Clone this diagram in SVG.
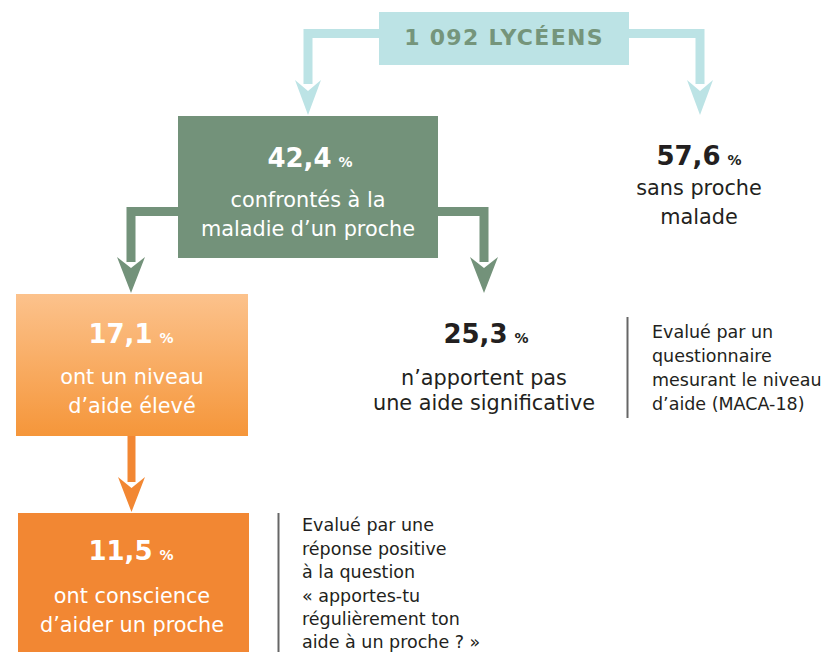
<svg xmlns="http://www.w3.org/2000/svg" width="832" height="652" viewBox="0 0 832 652">
<defs>
<linearGradient id="og" x1="0" y1="0" x2="0" y2="1">
<stop offset="0" stop-color="#fcc28c"/>
<stop offset="1" stop-color="#f5963a"/>
</linearGradient>
<style>
text{font-family:"DejaVu Sans","Liberation Sans",sans-serif;}
.num{font-weight:bold;font-size:26px;}
.pct{font-weight:bold;font-size:14px;}
.body{font-size:20.8px;}
.note{font-size:17.5px;fill:#231f20;}
.w{fill:#ffffff;}
.d{fill:#231f20;}
.c{text-anchor:middle;}
</style>
</defs>
<rect width="832" height="652" fill="#ffffff"/>
<g id="connectors">
<path d="M379,33.5 H308 V84" fill="none" stroke="#bce3e5" stroke-width="9"/>
<path d="M295,80 L308,91 L321,80 L308,115 Z" fill="#bce3e5"/>
<path d="M629,33.5 H700 V84" fill="none" stroke="#bce3e5" stroke-width="9"/>
<path d="M687,80 L700,91 L713,80 L700,115 Z" fill="#bce3e5"/>
<path d="M178,211.5 H131 V262" fill="none" stroke="#73927a" stroke-width="9"/>
<path d="M117,257 L131,268 L145,257 L131,293 Z" fill="#73927a"/>
<path d="M438,211.5 H484 V262" fill="none" stroke="#73927a" stroke-width="9"/>
<path d="M470,257 L484,268 L498,257 L484,293 Z" fill="#73927a"/>
<path d="M131.5,436 V482" fill="none" stroke="#f28733" stroke-width="8"/>
<path d="M118,477 L131.5,488 L145,477 L131.5,512 Z" fill="#f28733"/>
</g>
<g id="n-total">
<rect x="379" y="12" width="250" height="53" fill="#bce3e5"/>
<text x="504" y="45" class="c" font-weight="bold" font-size="22" letter-spacing="1.3" fill="#75957b">1 092 LYCÉENS</text>
</g>
<g id="n-confrontes">
<rect x="178" y="116" width="260" height="142" fill="#73927a"/>
<text x="310" y="167" class="w c"><tspan class="num">42,4</tspan><tspan class="pct" dx="7">%</tspan></text>
<text x="308" y="207" class="body w c">confrontés à la</text>
<text x="308" y="236" class="body w c">maladie d’un proche</text>
</g>
<g id="n-sans">
<text x="699" y="165" class="d c"><tspan class="num">57,6</tspan><tspan class="pct" dx="7">%</tspan></text>
<text x="699" y="195" class="body d c">sans proche</text>
<text x="699" y="224" class="body d c">malade</text>
</g>
<g id="n-eleve">
<rect x="16" y="294" width="232" height="142" fill="url(#og)"/>
<text x="131" y="343" class="w c"><tspan class="num">17,1</tspan><tspan class="pct" dx="7">%</tspan></text>
<text x="132" y="384" class="body w c">ont un niveau</text>
<text x="132" y="413" class="body w c">d’aide élevé</text>
</g>
<g id="n-pas">
<text x="486" y="343" class="d c"><tspan class="num">25,3</tspan><tspan class="pct" dx="7">%</tspan></text>
<text x="484" y="385" class="body d c">n’apportent pas</text>
<text x="484" y="410" class="body d c">une aide significative</text>
</g>
<g id="note-maca">
<line x1="627.5" y1="317" x2="627.5" y2="418" stroke="#666666" stroke-width="2"/>
<text class="note"><tspan x="652" y="338">Evalué par un</tspan><tspan x="652" y="362">questionnaire</tspan><tspan x="652" y="386">mesurant le niveau</tspan><tspan x="652" y="410">d’aide (MACA-18)</tspan></text>
</g>
<g id="n-conscience">
<rect x="18" y="513" width="231" height="139" fill="#f28733"/>
<text x="131" y="560" class="w c"><tspan class="num">11,5</tspan><tspan class="pct" dx="7">%</tspan></text>
<text x="132" y="603" class="body w c">ont conscience</text>
<text x="132" y="632" class="body w c">d’aider un proche</text>
</g>
<g id="note-question">
<line x1="278.5" y1="513" x2="278.5" y2="652" stroke="#666666" stroke-width="2"/>
<text class="note"><tspan x="302" y="531">Evalué par une</tspan><tspan x="302" y="554.5">réponse positive</tspan><tspan x="302" y="578">à la question</tspan><tspan x="302" y="601.5">« apportes-tu</tspan><tspan x="302" y="625">régulièrement ton</tspan><tspan x="302" y="647.5">aide à un proche ? »</tspan></text>
</g>
</svg>
